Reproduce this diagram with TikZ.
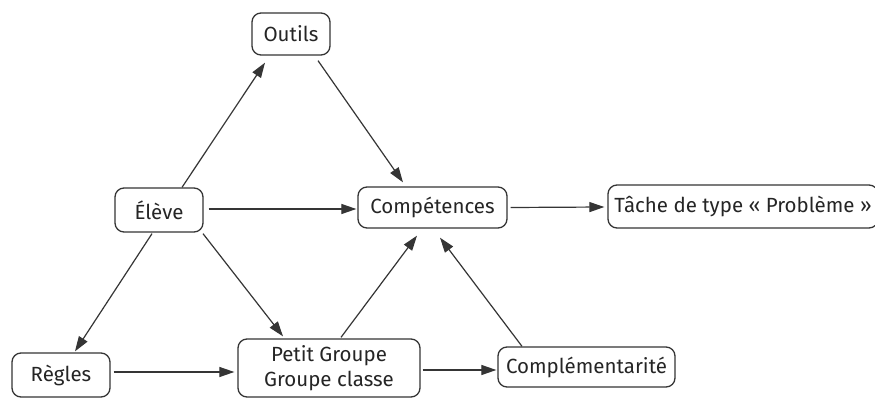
\documentclass[tikz,border=0pt]{standalone}
\usepackage{fontspec}
\setmainfont{Fira Sans}
\usetikzlibrary{arrows.meta,calc}
\definecolor{ink}{HTML}{353535}
\definecolor{txt}{HTML}{252525}
\begin{document}
\begin{tikzpicture}[x=1pt,y=-1pt,
  box/.style={draw=ink,line width=1.3pt,rounded corners=9pt,inner sep=0pt,
    text=txt,font=\fontsize{20.5}{25}\selectfont,align=center},
  arr/.style={draw=ink,line width=1.2pt,-{Triangle[length=15pt,width=10pt]}}]
\useasboundingbox (0,0) rectangle (875,398);
\fill[white] (0,0) rectangle (875,398);
\node[box,minimum width=78pt,minimum height=42pt] (outils) at (291,34) {Outils};
\node[box,minimum width=88pt,minimum height=44pt] (eleve) at (159,210) {Élève};
\node[box,minimum width=149pt,minimum height=41pt] (comp) at (432.5,207.5) {Compétences};
\node[box,minimum width=270pt,minimum height=43pt] (tache) at (743,206.5) {Tâche de type « Problème »};
\node[box,minimum width=98pt,minimum height=44pt] (regles) at (61,375) {Règles};
\node[box,minimum width=182pt,minimum height=58pt] (petit) at (329,368) {Petit Groupe\\Groupe classe};
\node[box,minimum width=177pt,minimum height=40pt] (compl) at (586.5,367) {Complémentarité};
\draw[arr] ($(eleve.north)+(23,0)$) -- ($(outils.south)+(-26,7)$);
\draw[arr] ($(outils.south)+(27,5)$) -- ($(comp.north)+(-29.5,-4)$);
\draw[arr] ($(eleve.east)+(5,-1)$) -- ($(comp.west)+(-1,1.5)$);
\draw[arr] ($(comp.east)+(3,0)$) -- ($(tache.west)+(-3,0.5)$);
\draw[arr] ($(eleve.south)+(-7,1)$) -- ($(regles.north)+(14,-1)$);
\draw[arr] ($(eleve.south)+(44,1)$) -- ($(petit.north)+(-46,-2)$);
\draw[arr] ($(regles.east)+(3,-3)$) -- ($(petit.west)+(-3,4)$);
\draw[arr] ($(petit.north)+(12,-1)$) -- ($(comp.south)+(-15.5,7)$);
\draw[arr] ($(compl.north)+(-64.5,0)$) -- ($(comp.south)+(7.5,9)$);
\draw[arr] ($(petit.east)+(2,2)$) -- ($(compl.west)+(-1,3)$);
\end{tikzpicture}
\end{document}
